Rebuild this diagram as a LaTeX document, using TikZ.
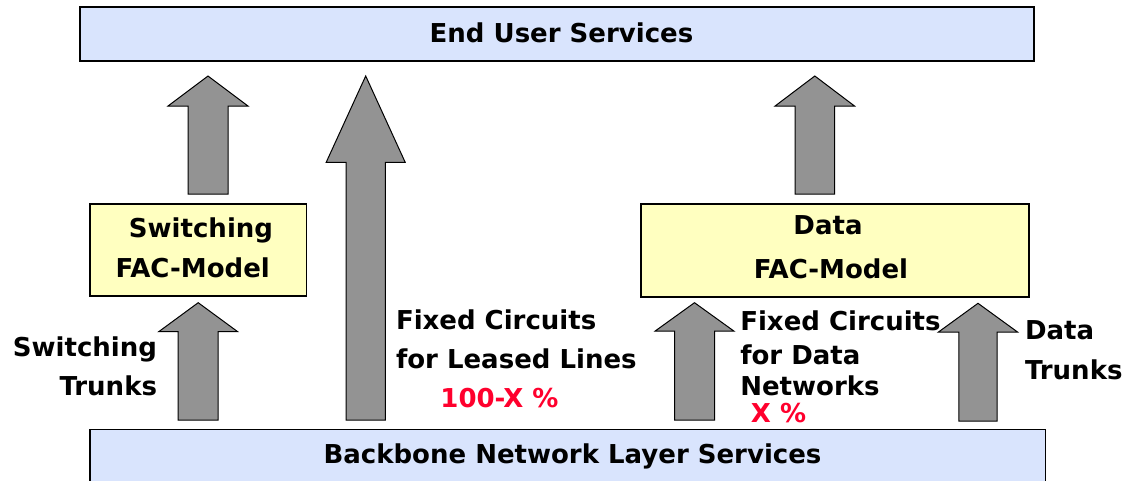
\documentclass[tikz,border=0pt]{standalone}
\usepackage{fontspec}
\setmainfont{DejaVu Sans}
\definecolor{boxblue}{RGB}{217,228,253}
\definecolor{boxyellow}{RGB}{255,255,192}
\definecolor{arrgray}{RGB}{147,147,147}
\definecolor{pctred}{RGB}{255,0,45}
% block arrow pointing up: centre x, bottom y, tip y, half shaft, half head, head base y
\newcommand\blockup[6]{%
  \draw[blockarrow] (#1-#4,#2) -- (#1-#4,#6) -- (#1-#5,#6) -- (#1,#3)
    -- (#1+#5,#6) -- (#1+#4,#6) -- (#1+#4,#2) -- cycle;}
\begin{document}
\begin{tikzpicture}[x=1pt,y=-1pt,
  every node/.style={font=\fontsize{26}{31}\selectfont\bfseries, inner sep=0pt, outer sep=0pt},
  bluebox/.style={draw=black, line width=1.4pt, fill=boxblue, anchor=north west},
  yellowbox/.style={draw=black, line width=1.1pt, fill=boxyellow, anchor=north west},
  blockarrow/.style={draw=black, line width=1pt, fill=arrgray, line join=miter},
  pct/.style={text=pctred}]
\useasboundingbox (0,0) rectangle (1130,480);
\clip (0,0) rectangle (1130,480);
% boxes
\node[bluebox, minimum width=954pt, minimum height=54pt] (top) at (80,7) {};
\node[yellowbox, minimum width=216.5pt, minimum height=92pt] (sw) at (90,204) {};
\node[yellowbox, minimum width=388pt, minimum height=93pt] (data) at (641,204) {};
\node[bluebox, minimum width=955.7pt, minimum height=80pt] (bb) at (90,429.3) {};
% box texts
\node[anchor=base] (toptext) at (561.5,42.7) {End User Services};
\node[anchor=base] (sw1) at (201,237.3) {Switching};
\node[anchor=base] (sw2) at (192.7,277.7) {FAC-Model};
\node[anchor=base] (d1) at (828,234.3) {Data};
\node[anchor=base] (d2) at (831,278.3) {FAC-Model};
\node[anchor=base] (bbtext) at (572.5,463.3) {Backbone Network Layer Services};
% block arrows
\blockup{208}{194}{76}{20}{40}{106}
\blockup{365.7}{420}{76}{19.7}{39.5}{162.3}
\blockup{814.8}{194}{76}{19.8}{39.7}{106}
\blockup{198.2}{420}{302.7}{20}{39.5}{331.7}
\blockup{694.5}{420}{302.7}{20}{39.3}{331}
\blockup{978}{421}{303.3}{19.2}{39.5}{332}
% labels
\node[anchor=base east] (st1) at (157,356) {Switching};
\node[anchor=base east] (st2) at (157,395) {Trunks};
\node[anchor=base west] (fl1) at (396,329.3) {Fixed Circuits};
\node[anchor=base west] (fl2) at (396,368.7) {for Leased Lines};
\node[anchor=base, pct] (p1) at (499.5,407.5) {100-X \%};
\node[anchor=base west] (fd1) at (740.3,330.7) {Fixed Circuits};
\node[anchor=base west] (fd2) at (740.3,364) {for Data};
\node[anchor=base west] (fd3) at (740.3,395) {Networks};
\node[anchor=base, pct] (p2) at (778.5,422.3) {X \%};
\node[anchor=base west] (dt1) at (1025,339) {Data};
\node[anchor=base west] (dt2) at (1025,379.3) {Trunks};
\end{tikzpicture}
\end{document}
